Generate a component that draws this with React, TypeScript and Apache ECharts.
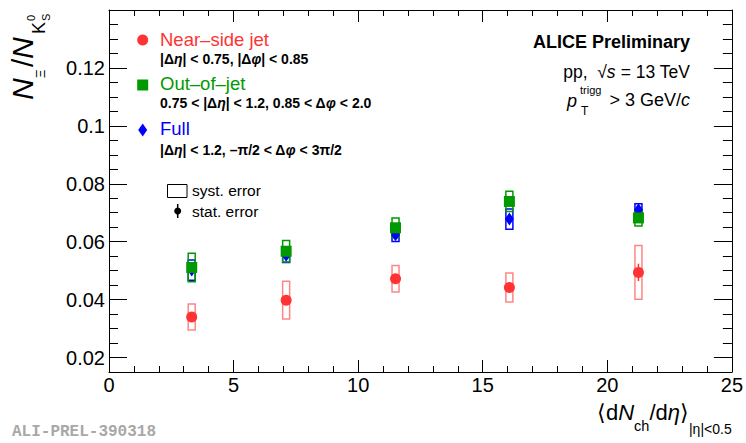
import React, { useEffect, useRef } from "react";
import * as echarts from "echarts";

// ---------- data ----------
const xValues = [3.32, 7.11, 11.5, 16.07, 21.25];

const nearSide = [0.034, 0.0398, 0.0472, 0.0442, 0.0494];
const nearSideSyst = [0.0045, 0.0065, 0.0046, 0.005, 0.0093];
const nearSideStat = [0.0009, 0.0012, 0.0012, 0.0016, 0.003];

const outOfJet = [0.0511, 0.0567, 0.0648, 0.0739, 0.0682];
const outOfJetSyst = [0.0049, 0.0037, 0.0034, 0.0035, 0.0028];
const outOfJetStat = [0.0006, 0.0007, 0.0007, 0.0008, 0.0009];

const full = [0.0502, 0.0553, 0.0624, 0.0678, 0.071];
const fullSyst = [0.0035, 0.0025, 0.0023, 0.0035, 0.0021];
const fullStat = [0.0004, 0.0005, 0.0005, 0.0006, 0.0007];

const yTickValues = [0.02, 0.04, 0.06, 0.08, 0.1, 0.12];
const yTickLabels = ["0.02", "0.04", "0.06", "0.08", "0.1", "0.12"];

// ---------- styles ----------
const FONT = "Liberation Sans";
const RED = "#ff3333";
const RED_BOX = "#ff8585";
const GREEN = "#009900";
const BLUE = "#0000ff";

const txt = (
  text: string,
  x: number,
  y: number,
  size: number,
  opts: any = {}
) => ({
  type: "text",
  x,
  y,
  silent: true,
  style: {
    text,
    fontSize: size,
    fontFamily: FONT,
    fontWeight: opts.bold ? "bold" : "normal",
    fontStyle: opts.italic ? "italic" : "normal",
    fill: opts.color || "#000",
    align: opts.align || "left",
    verticalAlign: "middle",
    rich: opts.rich,
  },
});

const greek = (size: number, bold: boolean) => ({
  i: {
    fontSize: size,
    fontFamily: FONT,
    fontStyle: "italic",
    fontWeight: bold ? "bold" : "normal",
  },
});

function boxSeries(vals: number[], syst: number[], color: string) {
  return {
    type: "custom",
    xAxisIndex: 0,
    yAxisIndex: 0,
    silent: true,
    clip: false,
    data: xValues.map((x, i) => [x, vals[i], syst[i]]),
    renderItem: (params: any, api: any) => {
      const x = api.value(0);
      const y = api.value(1);
      const e = api.value(2);
      const top = api.coord([x, y + e]);
      const bot = api.coord([x, y - e]);
      return {
        type: "rect",
        shape: { x: top[0] - 3.5, y: top[1], width: 7, height: bot[1] - top[1] },
        style: { fill: "none", stroke: color, lineWidth: 1.5 },
      };
    },
  };
}

function statSeries(vals: number[], stat: number[], color: string) {
  return {
    type: "custom",
    xAxisIndex: 0,
    yAxisIndex: 0,
    silent: true,
    clip: false,
    data: xValues.map((x, i) => [x, vals[i], stat[i]]),
    renderItem: (params: any, api: any) => {
      const x = api.value(0);
      const y = api.value(1);
      const e = api.value(2);
      const top = api.coord([x, y + e]);
      const bot = api.coord([x, y - e]);
      return {
        type: "line",
        shape: { x1: top[0], y1: top[1], x2: bot[0], y2: bot[1] },
        style: { stroke: color, lineWidth: 1.5 },
      };
    },
  };
}

function markerSeries(vals: number[], color: string, symbol: string, size: any) {
  return {
    type: "scatter",
    xAxisIndex: 0,
    yAxisIndex: 0,
    silent: true,
    symbol,
    symbolSize: size,
    itemStyle: { color, opacity: 1 },
    data: xValues.map((x, i) => [x, vals[i]]),
  };
}

const tickStyle = { color: "#000", width: 1 };

export default function App() {
  const ref = useRef<HTMLDivElement>(null);

  useEffect(() => {
    if (!ref.current) return;
    const chart = echarts.init(ref.current, null, {
      renderer: "svg",
      width: 746,
      height: 443,
    });

    const yLabelFmt = (v: number) => {
      const i = yTickValues.findIndex((t) => Math.abs(t - v) < 1e-9);
      return i >= 0 ? yTickLabels[i] : "";
    };

    const option: any = {
      animation: false,
      backgroundColor: "#fff",
      grid: { left: 109, right: 11, top: 10, bottom: 71, containLabel: false },
      xAxis: [
        {
          type: "value",
          position: "bottom",
          min: 0,
          max: 25,
          interval: 5,
          axisLine: { show: true, lineStyle: tickStyle },
          axisTick: { show: true, inside: true, length: 12, lineStyle: tickStyle },
          minorTick: { show: true, splitNumber: 5, length: 6, lineStyle: tickStyle },
          splitLine: { show: false },
          axisLabel: {
            show: true,
            margin: 3,
            fontSize: 20,
            fontFamily: FONT,
            color: "#000",
          },
        },
        {
          type: "value",
          position: "top",
          min: 0,
          max: 25,
          interval: 5,
          axisLine: { show: true, lineStyle: tickStyle },
          axisTick: { show: true, inside: true, length: 12, lineStyle: tickStyle },
          minorTick: { show: true, splitNumber: 5, length: 6, lineStyle: tickStyle },
          splitLine: { show: false },
          axisLabel: { show: false },
        },
      ],
      yAxis: [
        {
          type: "value",
          position: "left",
          min: 0.015,
          max: 0.14,
          axisLine: { show: true, lineStyle: tickStyle },
          axisTick: {
            show: true,
            inside: true,
            length: 18,
            customValues: yTickValues,
            lineStyle: tickStyle,
          },
          splitLine: { show: false },
          axisLabel: {
            show: true,
            customValues: yTickValues,
            formatter: yLabelFmt,
            margin: 4,
            fontSize: 20,
            fontFamily: FONT,
            color: "#000",
          },
        },
        {
          type: "value",
          position: "left",
          min: 0.015,
          max: 0.14,
          interval: 0.005,
          axisLine: { show: false },
          axisTick: { show: true, inside: true, length: 9, lineStyle: tickStyle },
          splitLine: { show: false },
          axisLabel: { show: false },
        },
        {
          type: "value",
          position: "right",
          min: 0.015,
          max: 0.14,
          axisLine: { show: true, lineStyle: tickStyle },
          axisTick: {
            show: true,
            inside: true,
            length: 18,
            customValues: yTickValues,
            lineStyle: tickStyle,
          },
          splitLine: { show: false },
          axisLabel: { show: false },
        },
        {
          type: "value",
          position: "right",
          min: 0.015,
          max: 0.14,
          interval: 0.005,
          axisLine: { show: false },
          axisTick: { show: true, inside: true, length: 9, lineStyle: tickStyle },
          splitLine: { show: false },
          axisLabel: { show: false },
        },
      ],
      series: [
        boxSeries(nearSide, nearSideSyst, RED_BOX),
        statSeries(nearSide, nearSideStat, RED),
        markerSeries(nearSide, RED, "circle", 11),
        boxSeries(full, fullSyst, BLUE),
        statSeries(full, fullStat, BLUE),
        markerSeries(full, BLUE, "diamond", [9, 13]),
        boxSeries(outOfJet, outOfJetSyst, GREEN),
        statSeries(outOfJet, outOfJetStat, GREEN),
        markerSeries(outOfJet, GREEN, "rect", [11, 11]),
      ],
      graphic: {
        elements: [
          // legend markers
          { type: "circle", silent: true, shape: { cx: 142.7, cy: 40, r: 5.5 }, style: { fill: RED } },
          { type: "rect", silent: true, shape: { x: 137.2, y: 79.5, width: 11, height: 11 }, style: { fill: GREEN } },
          {
            type: "polygon",
            silent: true,
            shape: { points: [[142.7, 123.5], [147.2, 130], [142.7, 136.5], [138.2, 130]] },
            style: { fill: BLUE },
          },
          // legend texts
          txt("Near–side jet", 160, 39, 18.5, { color: RED }),
          txt("|Δ{i|η}| < 0.75, |Δ{i|φ}| < 0.85", 160, 59, 14, { bold: true, rich: greek(14, true) }),
          txt("Out–of–jet", 160, 83.5, 18.5, { color: GREEN }),
          txt("0.75 < |Δ{i|η}| < 1.2, 0.85 < Δ{i|φ} < 2.0", 160, 102.5, 14, { bold: true, rich: greek(14, true) }),
          txt("Full", 160, 128.5, 18.5, { color: BLUE }),
          txt("|Δ{i|η}| < 1.2, –π/2 < Δ{i|φ} < 3π/2", 160, 150, 14, { bold: true, rich: greek(14, true) }),
          // syst / stat legend
          { type: "rect", silent: true, shape: { x: 167.5, y: 184.5, width: 19.5, height: 13 }, style: { fill: "none", stroke: "#000", lineWidth: 1 } },
          txt("syst. error", 192, 190, 15.5),
          { type: "line", silent: true, shape: { x1: 177.7, y1: 204, x2: 177.7, y2: 218 }, style: { stroke: "#000", lineWidth: 1.5 } },
          { type: "circle", silent: true, shape: { cx: 177.7, cy: 211, r: 3.5 }, style: { fill: "#000" } },
          txt("stat. error", 192, 211, 15.5),
          // top-right labels
          txt("ALICE Preliminary", 690, 42, 18, { bold: true, align: "right" }),
          txt("pp,  √{i|s} = 13 TeV", 690, 72, 17.5, { align: "right", rich: greek(17.5, false) }),
          txt("> 3 GeV/{i|c}", 690, 100, 18, { align: "right", rich: greek(18, false) }),
          txt("p", 567, 101, 18, { italic: true }),
          txt("trigg", 580, 90, 11),
          txt("T", 581, 110.5, 12),
          // y-axis title (rotated)
          {
            type: "group",
            x: 33,
            y: 100,
            rotation: Math.PI / 2,
            silent: true,
            children: [
              txt("N", 0, -10.5, 30, { italic: true }),
              txt("Ξ", 22, 7, 13),
              txt("/", 33, -10.5, 30),
              txt("N", 41, -10.5, 30, { italic: true }),
              txt("K", 66, 5.5, 18),
              txt("0", 79, -2, 11),
              txt("S", 79, 13, 11),
            ],
          },
          // x-axis title
          txt("⟨d{i|N}{sub|ch}/d{i|η}⟩{sub2||η|<0.5}", 597, 412, 22, {
            rich: {
              i: { fontSize: 22, fontFamily: FONT, fontStyle: "italic" },
              sub: { fontSize: 14.5, fontFamily: FONT, padding: [28, 0, 0, 0] },
              sub2: { fontSize: 14, fontFamily: FONT, padding: [34, 0, 0, 0] },
            },
          }),
          // watermark
          {
            type: "text",
            x: 12,
            y: 432,
            silent: true,
            style: {
              text: "ALI-PREL-390318",
              fontSize: 16,
              fontFamily: "Liberation Mono",
              fontWeight: "bold",
              fill: "#a8a8a8",
              align: "left",
              verticalAlign: "middle",
            },
          },
        ],
      },
    };

    chart.setOption(option);
    return () => chart.dispose();
  }, []);

  return (
    <div
      ref={ref}
      style={{ position: "fixed", left: 0, top: 0, width: 746, height: 443, background: "#fff" }}
    />
  );
}
